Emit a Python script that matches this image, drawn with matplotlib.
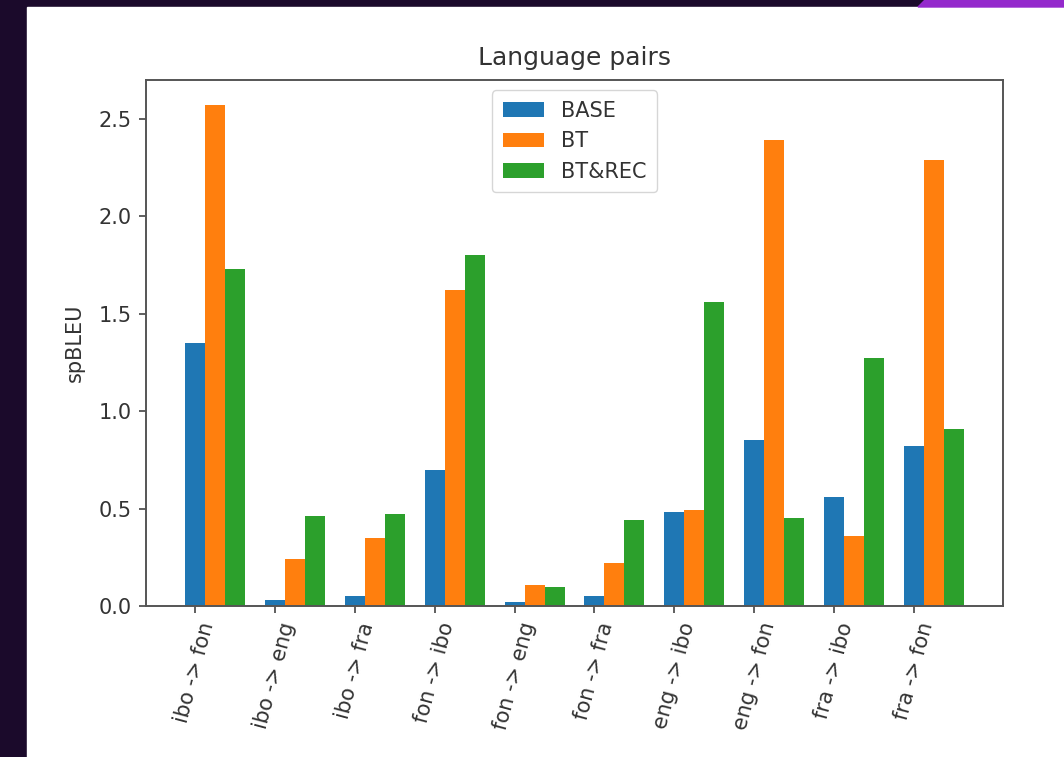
import numpy as np
import matplotlib
matplotlib.use('Agg')
from matplotlib import pyplot as plt
from matplotlib.patches import Rectangle, Polygon

pairs = ['ibo -> fon', 'ibo -> eng', 'ibo -> fra', 'fon -> ibo', 'fon -> eng',
         'fon -> fra', 'eng -> ibo', 'eng -> fon', 'fra -> ibo', 'fra -> fon']
base = [1.35, 0.03, 0.05, 0.70, 0.02, 0.05, 0.48, 0.85, 0.56, 0.82]
bt = [2.57, 0.24, 0.35, 1.62, 0.11, 0.22, 0.49, 2.39, 0.36, 2.29]
bt_rec = [1.73, 0.46, 0.47, 1.80, 0.10, 0.44, 1.56, 0.45, 1.27, 0.91]

W, H = 1064, 757
fig = plt.figure(figsize=(W / 100, H / 100), dpi=100, facecolor='#1b0a2b')

# white slide area and the purple strip along the top
fig.patches.append(Rectangle((27 / W, 0), 1 - 27 / W, (H - 7) / H,
                             transform=fig.transFigure, color='white', zorder=-2))
fig.patches.append(Polygon([(918 / W, (H - 7) / H), (925 / W, 1), (1, 1), (1, (H - 7) / H)],
                           closed=True, transform=fig.transFigure,
                           color='#9429cc', zorder=-2))

ax = fig.add_axes([146 / W, (H - 606) / H, (1003 - 146) / W, (606 - 80) / H])
ax.set_zorder(1)

x = np.arange(len(pairs))
w = 0.25
ax.bar(x, base, w, label='BASE', color='#1f77b4')
ax.bar(x + w, bt, w, label='BT', color='#ff7f0e')
ax.bar(x + 2 * w, bt_rec, w, label='BT&REC', color='#2ca02c')

ax.set_title('Language pairs', fontsize=18, pad=10.5, color='#333333')
ax.set_ylabel('spBLEU', fontsize=15, color='#333333', labelpad=10)
ax.set_xticks(x)
ax.set_xticklabels(pairs, rotation=75, fontsize=15)
ax.set_yticks([0.0, 0.5, 1.0, 1.5, 2.0, 2.5])
ax.tick_params(axis='y', labelsize=15)
ax.tick_params(length=5, width=1.2, color='#444444', pad=5, labelcolor='#333333')
for s in ax.spines.values():
    s.set_linewidth(1.4)
    s.set_color('#555555')

ax.legend(loc='upper center', fontsize=15, handlelength=2.0, borderpad=0.5,
          labelspacing=0.5, labelcolor='#333333')

fig.savefig('out.png', dpi=100, facecolor=fig.get_facecolor())
